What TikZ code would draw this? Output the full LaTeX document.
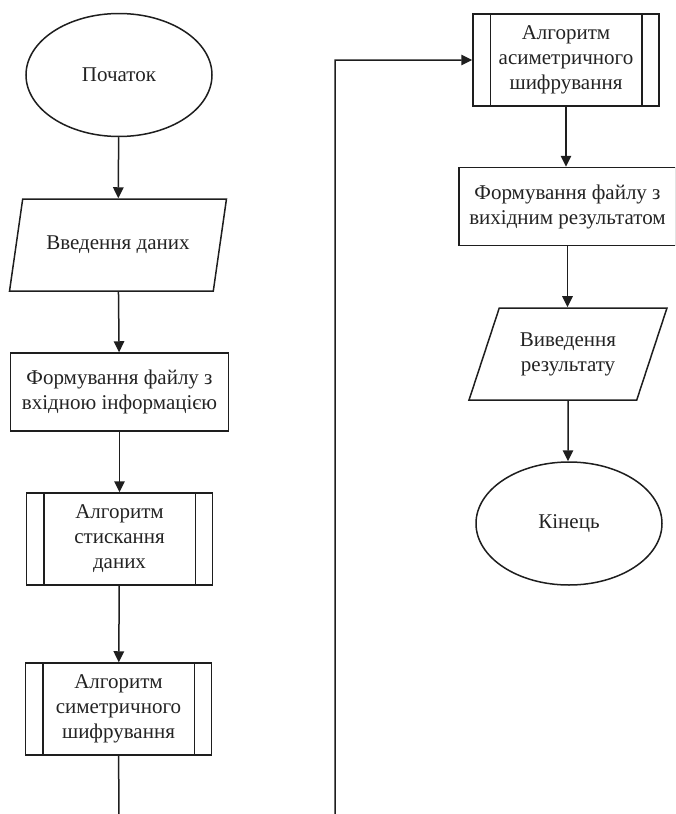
\documentclass[tikz,border=0pt]{standalone}
\usepackage{fontspec}
\setmainfont{Liberation Serif}
\usepackage{tikz}
\usetikzlibrary{arrows.meta,shapes.geometric,positioning}
\definecolor{LiniaSira}{RGB}{30,30,30}
\definecolor{TekstSiryi}{RGB}{35,35,35}

\begin{document}
\begin{tikzpicture}[x=1pt,y=-1pt,>={Triangle[length=11pt,width=10.5pt]},
    every node/.style={font=\fontsize{21}{25}\selectfont,text=TekstSiryi,align=center,inner sep=2pt},
    potik/.style={draw=LiniaSira,line width=1.5pt},
    terminal/.style={potik,ellipse,minimum width=186pt,minimum height=123pt},
    vvid/.style={potik,trapezium,trapezium left angle=65,trapezium right angle=115,
      trapezium stretches=true,minimum height=92pt},
    blok/.style={potik,rectangle,minimum width=218pt,minimum height=78pt},
    pidblok/.style={potik,rectangle,minimum width=186pt,minimum height=92pt}]
  \path[use as bounding box,clip] (0,0) rectangle (675,814);

  % ліва колонка
  \node[terminal] (pochatok) at (119,75) {Початок};
  \node[vvid,minimum width=217pt] (vvedennia) at (118,245) {Введення даних};
  \node[blok] (fajlVkhid) at (119.5,392) {Формування файлу з\\вхідною інформацією};
  \node[pidblok] (styskannia) at (119.5,539) {Алгоритм\\стискання\\даних};
  \node[pidblok] (symetr) at (118.5,709) {Алгоритм\\симетричного\\шифрування};

  % права колонка
  \node[pidblok] (asymetr) at (566,60) {Алгоритм\\асиметричного\\шифрування};
  \node[blok,minimum width=217pt] (fajlVykhid) at (567.5,206.5) {Формування файлу з\\вихідним результатом};
  \node[vvid,minimum width=198pt] (vyvedennia) at (568,354) {Виведення\\результату};
  \node[terminal] (kinets) at (569,523.5) {Кінець};

  \foreach \n in {styskannia,symetr,asymetr}{
    \draw[potik] ([xshift=18pt]\n.north west) -- ([xshift=18pt]\n.south west);
    \draw[potik] ([xshift=-18pt]\n.north east) -- ([xshift=-18pt]\n.south east);
  }

  \coordinate (nyz) at (119,850);
  \coordinate (perekhid) at (335,850);

  \draw[potik,->] (pochatok) -- (vvedennia);
  \draw[potik,->] (vvedennia) -- (fajlVkhid);
  \draw[potik,->] (fajlVkhid) -- (styskannia);
  \draw[potik,->] (styskannia) -- (symetr);
  \draw[potik,->] (symetr) -- (nyz) -- (perekhid) |- (asymetr);
  \draw[potik,->] (asymetr) -- (asymetr|-fajlVykhid.north);
  \draw[potik,->] (fajlVykhid) -- (fajlVykhid|-vyvedennia.north);
  \draw[potik,->] (vyvedennia) -- (vyvedennia|-kinets.north);
\end{tikzpicture}
\end{document}
